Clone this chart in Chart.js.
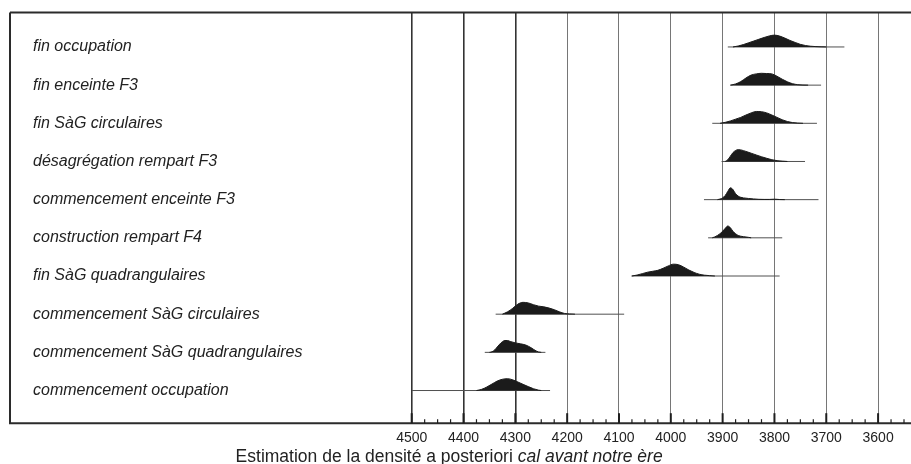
<!DOCTYPE html>
<html>
<head>
<meta charset="utf-8">
<script src="https://cdn.jsdelivr.net/npm/chart.js@4.4.1/dist/chart.umd.min.js"></script>
<style>
  html, body { margin: 0; padding: 0; background: #ffffff; }
  #wrap { position: relative; width: 911px; height: 464px; }
</style>
</head>
<body>
<div id="wrap"><canvas id="c" width="911" height="464"></canvas></div>
<script>
// ---- Data ----
const categories = [
  'fin occupation',
  'fin enceinte F3',
  'fin SàG circulaires',
  'désagrégation rempart F3',
  'commencement enceinte F3',
  'construction rempart F4',
  'fin SàG quadrangulaires',
  'commencement SàG circulaires',
  'commencement SàG quadrangulaires',
  'commencement occupation'
];

// horizontal range lines (cal BC), start (older) -> end (younger)
const rangeStart = [3890, 3885, 3920, 3902, 3936, 3928, 4076, 4338, 4359, 4500];
const rangeEnd   = [3665, 3710, 3718, 3741, 3715, 3785, 3790, 4090, 4242, 4233];

// posterior densities (relative, peak = 1)
const finOccupationYears   = [3880, 3870, 3860, 3850, 3840, 3830, 3820, 3810, 3800, 3790, 3780, 3770, 3760, 3750, 3740, 3730, 3720, 3710, 3700];
const finOccupationDensity = [0, 0.08, 0.2, 0.35, 0.5, 0.65, 0.8, 0.93, 1.0, 0.92, 0.75, 0.55, 0.38, 0.22, 0.12, 0.06, 0.03, 0.01, 0];

const finEnceinteYears   = [3885, 3875, 3865, 3855, 3845, 3835, 3825, 3815, 3805, 3795, 3785, 3775, 3765, 3755, 3745, 3735];
const finEnceinteDensity = [0, 0.1, 0.3, 0.6, 0.85, 0.95, 1.0, 0.98, 0.95, 0.75, 0.5, 0.28, 0.12, 0.04, 0.01, 0];

const finCircYears   = [3905, 3895, 3885, 3875, 3865, 3855, 3845, 3835, 3825, 3815, 3805, 3795, 3785, 3775, 3765, 3755, 3745];
const finCircDensity = [0, 0.08, 0.2, 0.35, 0.5, 0.7, 0.88, 1.0, 0.98, 0.88, 0.7, 0.5, 0.3, 0.15, 0.06, 0.02, 0];

const desagregationYears   = [3895, 3890, 3885, 3880, 3875, 3870, 3865, 3855, 3845, 3835, 3825, 3815, 3805, 3795, 3785, 3775];
const desagregationDensity = [0, 0.15, 0.45, 0.75, 0.93, 1.0, 0.98, 0.85, 0.7, 0.55, 0.4, 0.27, 0.15, 0.07, 0.03, 0];

const debEnceinteYears   = [3910, 3905, 3900, 3895, 3890, 3885, 3880, 3875, 3870, 3865, 3860, 3850, 3840, 3830, 3820, 3810, 3800, 3795, 3790, 3780];
const debEnceinteDensity = [0, 0.05, 0.15, 0.35, 0.7, 1.0, 0.85, 0.5, 0.3, 0.2, 0.15, 0.1, 0.06, 0.03, 0.02, 0.02, 0.04, 0.03, 0.01, 0];

const constructionYears   = [3920, 3915, 3910, 3905, 3900, 3895, 3890, 3885, 3880, 3875, 3870, 3860, 3850, 3845];
const constructionDensity = [0, 0.08, 0.2, 0.35, 0.55, 0.8, 1.0, 0.85, 0.55, 0.35, 0.2, 0.1, 0.04, 0];

const finQuadYears   = [4075, 4065, 4055, 4045, 4035, 4025, 4015, 4005, 3995, 3985, 3975, 3965, 3955, 3945, 3935, 3925, 3915];
const finQuadDensity = [0, 0.08, 0.2, 0.32, 0.4, 0.48, 0.65, 0.85, 1.0, 0.95, 0.75, 0.5, 0.3, 0.15, 0.07, 0.03, 0];

const debCircYears   = [4325, 4315, 4305, 4295, 4285, 4275, 4265, 4255, 4245, 4235, 4225, 4215, 4205, 4195, 4185];
const debCircDensity = [0, 0.2, 0.5, 0.85, 1.0, 0.95, 0.8, 0.68, 0.62, 0.52, 0.38, 0.2, 0.06, 0.02, 0];

const debQuadYears   = [4350, 4345, 4340, 4335, 4330, 4325, 4320, 4315, 4310, 4300, 4290, 4280, 4270, 4260, 4255, 4250];
const debQuadDensity = [0, 0.05, 0.2, 0.45, 0.7, 0.9, 1.0, 1.0, 0.92, 0.8, 0.72, 0.62, 0.4, 0.12, 0.03, 0];

const debOccupationYears   = [4375, 4365, 4355, 4345, 4335, 4325, 4315, 4305, 4295, 4285, 4275, 4265, 4255, 4250];
const debOccupationDensity = [0, 0.1, 0.3, 0.55, 0.8, 0.95, 1.0, 0.9, 0.72, 0.52, 0.33, 0.15, 0.03, 0];

const tickLabels = [4500, 4400, 4300, 4200, 4100, 4000, 3900, 3800, 3700, 3600];
const axisTitleNormal = 'Estimation de la densité a posteriori ';
const axisTitleItalic = 'cal avant notre ère';

// ---- Build datasets ----
const densityYears = [finOccupationYears, finEnceinteYears, finCircYears, desagregationYears, debEnceinteYears,
                      constructionYears, finQuadYears, debCircYears, debQuadYears, debOccupationYears];
const densityValues = [finOccupationDensity, finEnceinteDensity, finCircDensity, desagregationDensity, debEnceinteDensity,
                       constructionDensity, finQuadDensity, debCircDensity, debQuadDensity, debOccupationDensity];

const ROW_HEIGHT = 0.31; // peak height in row units (style)
const n = categories.length;
const rowValue = i => n - 1 - i;

const datasets = [];
categories.forEach((cat, i) => {
  const base = rowValue(i);
  datasets.push({
    label: cat + ' range',
    data: [{ x: rangeStart[i], y: base }, { x: rangeEnd[i], y: base }],
    borderColor: '#505050',
    borderWidth: 1,
    pointRadius: 0,
    fill: false,
    tension: 0,
    order: 2
  });
  datasets.push({
    label: cat,
    data: densityYears[i].map((yr, k) => ({ x: yr, y: base + densityValues[i][k] * ROW_HEIGHT })),
    borderColor: '#1b1b1b',
    backgroundColor: '#1b1b1b',
    borderWidth: 1,
    pointRadius: 0,
    fill: { value: base },
    cubicInterpolationMode: 'monotone',
    order: 1
  });
});

// ---- Frame, inner ticks and mixed-style axis title ----
const framePlugin = {
  id: 'frame',
  afterDatasetsDraw(chart) {
    const { ctx, chartArea } = chart;
    const xs = chart.scales.x;
    const left = 10;
    const right = chart.width;
    ctx.save();
    ctx.strokeStyle = '#2b2b2b';
    ctx.lineWidth = 2;
    ctx.beginPath();
    ctx.moveTo(left, chartArea.top); ctx.lineTo(right, chartArea.top);
    ctx.moveTo(left, chartArea.top); ctx.lineTo(left, chartArea.bottom);
    ctx.moveTo(left - 1, chartArea.bottom); ctx.lineTo(right, chartArea.bottom);
    ctx.stroke();
    // inward tick marks
    xs.ticks.forEach(t => {
      const px = xs.getPixelForValue(t.value);
      const major = t.value % 100 === 0;
      ctx.lineWidth = major ? 2 : 1.2;
      ctx.strokeStyle = '#1e1e1e';
      ctx.beginPath();
      ctx.moveTo(px, chartArea.bottom - (major ? 10 : 4));
      ctx.lineTo(px, chartArea.bottom);
      ctx.stroke();
    });
    // axis title: normal + italic parts
    const fam = '"Liberation Sans", Arial, sans-serif';
    const size = 17.5;
    ctx.fillStyle = '#222';
    ctx.textBaseline = 'alphabetic';
    ctx.font = size + 'px ' + fam;
    const w1 = ctx.measureText(axisTitleNormal).width;
    ctx.font = 'italic ' + size + 'px ' + fam;
    const w2 = ctx.measureText(axisTitleItalic).width;
    const cx = chart.width * 0.493;
    const x0 = cx - (w1 + w2) / 2;
    const ty = chart.height - 2.5;
    ctx.font = size + 'px ' + fam;
    ctx.textAlign = 'left';
    ctx.fillText(axisTitleNormal, x0, ty);
    ctx.font = 'italic ' + size + 'px ' + fam;
    ctx.fillText(axisTitleItalic, x0 + w1, ty);
    ctx.restore();
  }
};

new Chart(document.getElementById('c'), {
  type: 'line',
  data: { datasets },
  options: {
    responsive: false,
    animation: false,
    devicePixelRatio: 1,
    layout: { padding: { top: 12, left: 33, right: 0, bottom: 10 } },
    plugins: { legend: { display: false }, tooltip: { enabled: false } },
    scales: {
      x: {
        type: 'linear',
        reverse: true,
        min: 3537,
        max: 4500,
        afterBuildTicks: scale => {
          const t = [];
          for (let v = 4500; v >= 3550; v -= 25) t.push({ value: v });
          scale.ticks = t;
        },
        ticks: {
          autoSkip: false,
          maxRotation: 0,
          padding: 7,
          color: '#222',
          font: { family: '"Liberation Sans", Arial, sans-serif', size: 14 },
          callback: v => (tickLabels.includes(v) ? String(v) : '')
        },
        grid: {
          drawTicks: false,
          color: c => {
            const v = c.tick ? c.tick.value : 0;
            if (v % 100 !== 0) return 'rgba(0,0,0,0)';
            return v >= 4300 ? '#333333' : '#767676';
          },
          lineWidth: c => {
            const v = c.tick ? c.tick.value : 0;
            return v >= 4300 ? 1.6 : 1;
          }
        },
        border: { display: false }
      },
      y: {
        type: 'linear',
        min: -0.856,
        max: 9.9,
        afterBuildTicks: scale => {
          scale.ticks = categories.map((c, i) => ({ value: rowValue(i) }));
        },
        afterFit: scale => { scale.width = 378.7; },
        ticks: {
          crossAlign: 'far',
          color: '#222',
          font: { family: '"Liberation Sans", Arial, sans-serif', size: 16, style: 'italic' },
          callback: v => categories[n - 1 - Math.round(v)]
        },
        grid: { display: false, drawTicks: false },
        border: { display: false }
      }
    }
  },
  plugins: [framePlugin]
});
</script>
</body>
</html>
